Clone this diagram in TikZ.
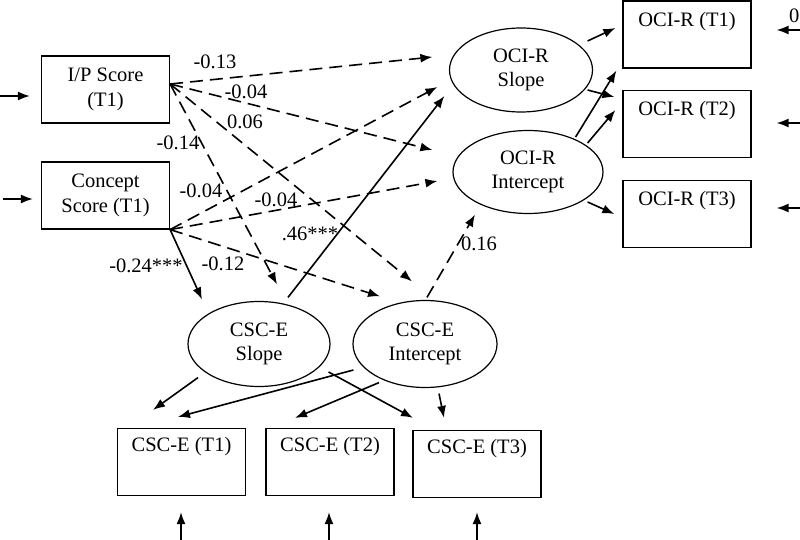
\documentclass[tikz,border=0pt]{standalone}
\usepackage{fontspec}
\setmainfont{Liberation Serif}
\usetikzlibrary{arrows.meta,shapes.geometric,calc}
\begin{document}
\begin{tikzpicture}[x=1pt,y=-1pt,
  every node/.style={font=\fontsize{20.5}{24.5}\selectfont, inner sep=0pt},
  box/.style={draw, line width=1.2pt, rectangle, minimum width=128pt, minimum height=67pt, align=center},
  lat/.style={draw, line width=1.2pt, ellipse, align=center},
  con/.style={line width=1.6pt, -{Latex[length=12pt,width=9pt]}},
  dsh/.style={con, dash pattern=on 13pt off 7pt}]
\useasboundingbox (0,0) rectangle (800,540);
% observed predictors
\node[box] (ip) at (105.5,89.5) {I/P Score\\(T1)};
\node[box] (cs) at (105.5,195.5) {Concept\\Score (T1)};
% latent OCI-R
\node[lat, minimum width=143pt, minimum height=84pt] (ocis) at (521,70) {OCI-R\\Slope};
\node[lat, minimum width=150pt, minimum height=83pt] (ocii) at (528,172) {OCI-R\\Intercept};
% latent CSC-E
\node[lat, minimum width=142pt, minimum height=85pt] (csls) at (259,344) {CSC-E\\Slope};
\node[lat, minimum width=144pt, minimum height=87pt] (csli) at (425,344) {CSC-E\\Intercept};
% OCI-R indicators
\node[box, label={[anchor=center,yshift=-21pt]north:OCI-R (T1)}] (o1) at (687,34.5) {};
\node[box, label={[anchor=center,yshift=-21pt]north:OCI-R (T2)}] (o2) at (687,124) {};
\node[box, label={[anchor=center,yshift=-21pt]north:OCI-R (T3)}] (o3) at (687,214) {};
% CSC-E indicators
\node[box, label={[anchor=center,yshift=-19pt]north:CSC-E (T1)}] (c1) at (181.5,462) {};
\node[box, label={[anchor=center,yshift=-19pt]north:CSC-E (T2)}] (c2) at (330,462) {};
\node[box, label={[anchor=center,yshift=-19pt]north:CSC-E (T3)}] (c3) at (477,464) {};
% start points
\coordinate (ipo) at ($(ip.east)+(0,-5.5)$);
\coordinate (cso) at (cs.south east);
% paths from I/P
\draw[dsh] (ipo) -- ($(ocis.west)+(-16.5,-13)$);
\draw[dsh] (ipo) -- ($(ocii.west)+(-20,-22)$);
\draw[dsh] (ipo) -- ($(csli.north)+(-13,-18.5)$);
\draw[dsh] (ipo) -- ($(csls.north)+(18,-16.5)$);
% paths from Concept
\draw[dsh] (cso) -- ($(ocis.west)+(-11.5,17)$);
\draw[dsh] (cso) -- ($(ocii.west)+(-15,9)$);
\draw[dsh] (cso) -- ($(csli.north)+(-45,-3.5)$);
\draw[con] (cso) -- ($(csls.north)+(-57,-1.5)$);
% cross-lagged
\draw[con] ($(csls.north)+(29,-3.5)$) -- ($(ocis.west)+(-4.5,26)$);
\draw[dsh] ($(csli.north)+(2,-2.5)$) -- ($(ocii.south)+(-53,0.5)$);
% OCI-R loadings
\draw[con] ($(ocis.east)+(-5.5,-29)$) -- ($(o1.west)+(-7,-6.5)$);
\draw[con] ($(ocis.east)+(-5.5,20)$) -- ($(o2.west)+(-8,-27)$);
\draw[con] ($(ocii.east)+(-28,-35)$) -- ($(o1.south west)+(-6,2)$);
\draw[con] ($(ocii.east)+(-16,-29)$) -- ($(o2.west)+(-7,-14)$);
\draw[con] ($(ocii.east)+(-16,30)$) -- ($(o3.west)+(-8,0)$);
% CSC-E loadings
\draw[con] ($(csls.south)+(-61,-9.5)$) -- ($(c1.north)+(-28.5,-18)$);
\draw[con] ($(csli.west)+(1,26)$) -- ($(c1.north)+(-3.5,-11)$);
\draw[con] ($(csli.south)+(-46,-5.5)$) -- ($(c2.north)+(-35,-10)$);
\draw[con] ($(csls.east)+(-2,28)$) -- ($(c3.north)+(-64,-12)$);
\draw[con] ($(csli.south)+(14,5.5)$) -- ($(c3.north)+(-33,-12)$);
% error arrows
\coordinate (eip) at (0,96);
\coordinate (ecs) at (3,199);
\draw[con] (eip) -- ($(ip.west)+(-11,6.5)$);
\draw[con] (ecs) -- ($(cs.west)+(-8,3.5)$);
\coordinate (eo1) at (800,30);
\coordinate (eo2) at (800,123);
\coordinate (eo3) at (800,208);
\draw[con] (eo1) -- ($(o1.east)+(25,-4.5)$);
\draw[con] (eo2) -- ($(o2.east)+(25,-1)$);
\draw[con] (eo3) -- ($(o3.east)+(25,-6)$);
\coordinate (ec1) at (181,540);
\coordinate (ec2) at (329,540);
\coordinate (ec3) at (477,540);
\draw[con] (ec1) -- ($(c1.south)+(-0.5,16)$);
\draw[con] (ec2) -- ($(c2.south)+(-1,16)$);
\draw[con] (ec3) -- ($(c3.south)+(0,14)$);
\node[anchor=west] (zero) at (789,16) {0};
% labels
\node (l1) at (215,62) {-0.13};
\node (l2) at (246,92) {-0.04};
\node (l3) at (245,122) {0.06};
\node (l4) at (178,143) {-0.14};
\node (l5) at (201,191) {-0.04};
\node (l6) at (276,200) {-0.04};
\node (l7) at (310,234) {.46***};
\node (l8) at (146,266) {-0.24***};
\node (l9) at (223,264) {-0.12};
\node (l10) at (479,244) {0.16};
\end{tikzpicture}
\end{document}
